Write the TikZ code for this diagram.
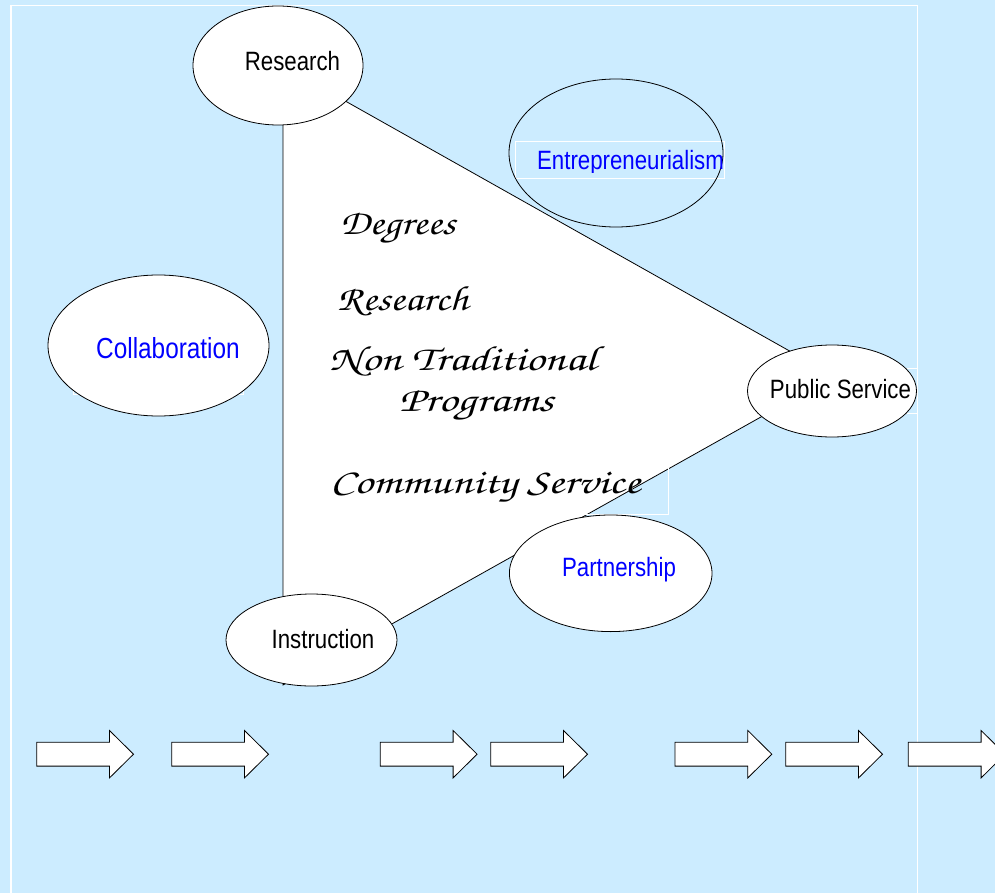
\documentclass[tikz,border=0pt]{standalone}
\usepackage[T1]{fontenc}
\usepackage{fontspec}
\usepackage{graphicx}
\usetikzlibrary{shapes.geometric}

% narrow sans for the ellipse labels, calligraphic face for the list inside the triangle
\newfontfamily\labelfont[FakeStretch=0.84]{Liberation Sans}
\newcommand\chancery{\fontencoding{T1}\fontfamily{pzc}\fontseries{mb}\fontshape{it}\selectfont}
% widen a calligraphic line to a given width, keeping its height
\newcommand\wideline[2]{\resizebox{#1}{\height}{#2}}

\definecolor{sky}{RGB}{204,236,255}
\definecolor{labelblue}{RGB}{0,0,255}

\begin{document}
\begin{tikzpicture}[x=1pt,y=-1pt,
  hub/.style={draw=black, line width=0.8pt, fill=white, ellipse, inner sep=0pt},
  ring/.style={draw=black, line width=0.8pt, ellipse, inner sep=0pt},
  tag/.style={font=\labelfont\fontsize{26.5}{30}\selectfont, anchor=base, inner sep=0pt},
  bluetag/.style={tag, text=labelblue},
  bigbluetag/.style={bluetag, font=\labelfont\fontsize{29}{33}\selectfont},
  script/.style={font=\chancery\fontsize{35}{40}\selectfont, anchor=base west, inner sep=0pt},
  frameline/.style={draw=white, line width=1.2pt},
  boxline/.style={draw=white, line width=0.8pt},
  edge/.style={draw=black, line width=0.8pt},
  blockarrow/.style={draw=black, line width=0.8pt, fill=white, line join=miter}]

  % page
  \fill[sky] (0,0) rectangle (995,893);
  \useasboundingbox (0,0) rectangle (995,893);

  % slide frame
  \draw[frameline] (11,893) -- (11,5.3) -- (917.7,5.3) -- (917.7,893);

  % the triangle
  \coordinate (tTop) at (283,66);
  \coordinate (tRight) at (834,376);
  \coordinate (tBottom) at (283,685);
  \filldraw[edge, fill=white] (tTop) -- (tRight) -- (tBottom) -- cycle;

  % text frames
  \draw[boxline] (73,300) rectangle (243,394);
  \draw[boxline] (760,368) rectangle (917,413);
  \draw[boxline] (325,460) rectangle (668,514);
  \draw[boxline] (515,141) rectangle (724,178);

  % ellipses
  \node[hub, minimum width=170pt, minimum height=119pt] (research) at (278,65.5) {};
  \node[hub, minimum width=169pt, minimum height=92pt] (public) at (832,391) {};
  \node[hub, minimum width=171pt, minimum height=92pt] (instruction) at (311.5,640) {};
  \node[hub, minimum width=221pt, minimum height=141pt] (collab) at (158.5,345.5) {};
  \node[hub, minimum width=202.6pt, minimum height=116.6pt] (partner) at (610.7,573.3) {};
  \node[ring, minimum width=214pt, minimum height=148pt] (entre) at (616,153) {};

  % ellipse labels
  \node[tag] (researchText) at (292.5,71) {Research};
  \node[tag] (publicText) at (840.5,398.3) {Public Service};
  \node[tag] (instructionText) at (323,648.3) {Instruction};
  \node[bigbluetag] (collabText) at (168,358.3) {Collaboration};
  \node[bluetag] (partnerText) at (619,576.7) {Partnership};
  \begin{scope}
    \clip (515,141) rectangle (724,172.5);
    \node[bluetag] (entreText) at (630.5,170) {Entrepreneurialism};
  \end{scope}

  % list inside the triangle
  \node[script] (degrees) at (340,235) {\wideline{115pt}{Degrees}};
  \node[script] (researchItem) at (337,310) {\wideline{131pt}{Research}};
  \node[script] (nontrad) at (329,370) {\wideline{267pt}{Non Traditional}};
  \node[script] (programs) at (399,411.7) {\wideline{154pt}{Programs}};
  \node[script] (community) at (330,493) {\wideline{310pt}{Community Service}};

  % row of block arrows
  \foreach \x in {36.7,171.7,380.3,490.7,675,785.7,908.3}
    \draw[blockarrow] (\x,742.3) -- ++(72.8,0) -- ++(0,-11.8) -- ++(24,23.7)
      -- ++(-24,23.7) -- ++(0,-11.8) -- ++(-72.8,0) -- cycle;
\end{tikzpicture}
\end{document}
